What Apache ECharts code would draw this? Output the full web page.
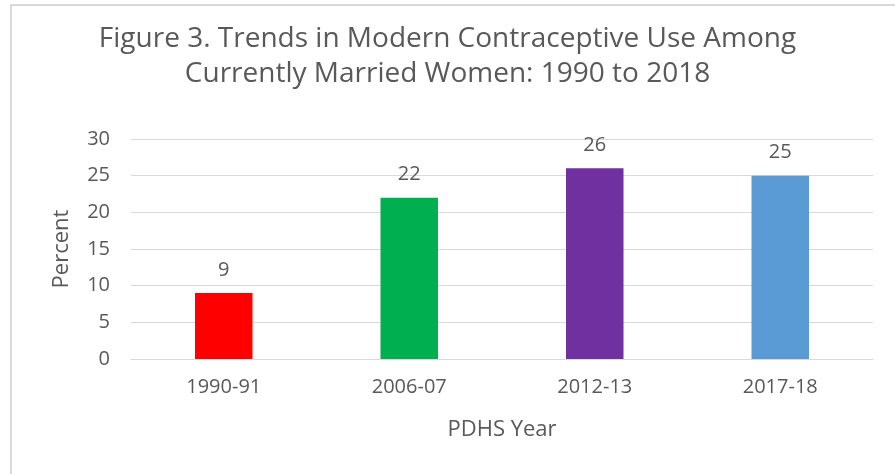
<!DOCTYPE html>
<html>
<head>
<meta charset="utf-8">
<script src="https://cdn.jsdelivr.net/npm/echarts@6/dist/echarts.min.js"></script>
<style>
  html, body { margin: 0; padding: 0; background: #fff; }
  #chart { width: 895px; height: 474px; }
</style>
</head>
<body>
<div id="chart"></div>
<script>
// data
const years = ["1990-91", "2006-07", "2012-13", "2017-18"];
const percent = [9, 22, 26, 25];
const barColors = ["#FF0000", "#00B050", "#7030A0", "#5B9BD5"];
const yTicks = { min: 0, max: 30, interval: 5 };

const font = '"Open Sans", sans-serif';
const textGray = "#595959";

const myChart = echarts.init(document.getElementById("chart"));
myChart.setOption({
  animation: false,
  title: {
    text: "Figure 3. Trends in Modern Contraceptive Use Among\nCurrently Married Women: 1990 to 2018",
    left: "center",
    top: 17,
    textStyle: { fontFamily: font, fontSize: 28, fontWeight: "normal", color: textGray, lineHeight: 35 },
  },
  graphic: [
    {
      type: "rect",
      shape: { x: 11, y: 5, width: 900, height: 480 },
      style: { fill: "none", stroke: "#d9d9d9", lineWidth: 2 },
      silent: true,
    },
  ],
  grid: { left: 131, right: 22, top: 139, bottom: 115 },
  xAxis: {
    type: "category",
    data: years,
    name: "PDHS Year",
    nameLocation: "middle",
    nameGap: 60,
    nameTextStyle: { fontFamily: font, fontSize: 22, color: textGray },
    axisLine: { lineStyle: { color: "#d9d9d9", width: 1 } },
    axisTick: { show: false },
    axisLabel: { fontFamily: font, fontSize: 20, color: textGray, margin: 18 },
  },
  yAxis: {
    type: "value",
    min: yTicks.min,
    max: yTicks.max,
    interval: yTicks.interval,
    name: "Percent",
    nameLocation: "middle",
    nameGap: 58,
    nameTextStyle: { fontFamily: font, fontSize: 22, color: textGray },
    axisLine: { show: false },
    axisTick: { show: false },
    axisLabel: { fontFamily: font, fontSize: 20, color: textGray, margin: 21 },
    splitLine: { lineStyle: { color: "#d9d9d9", width: 1 } },
  },
  series: [
    {
      type: "bar",
      barWidth: "31%",
      data: percent.map((v, i) => ({ value: v, itemStyle: { color: barColors[i] } })),
      label: {
        show: true,
        position: "top",
        distance: 13,
        fontFamily: font,
        fontSize: 20,
        color: textGray,
      },
    },
  ],
});
</script>
</body>
</html>
